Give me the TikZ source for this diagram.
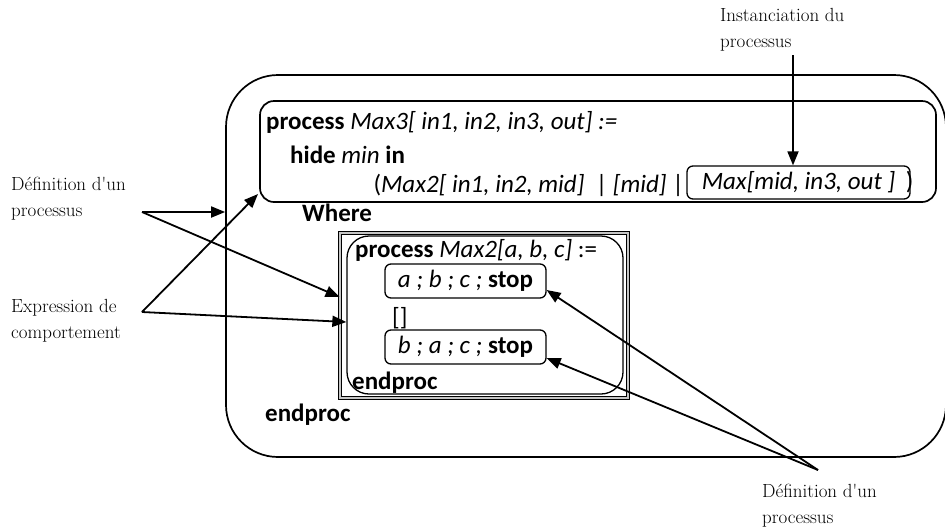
\documentclass[tikz,border=0pt]{standalone}
\usepackage{fontspec}
\newfontfamily\calfam{Carlito}
\usetikzlibrary{arrows.meta}
\newcommand\codefont{\calfam\fontsize{25}{30}\selectfont}
\newcommand\lblfont{\fontsize{19}{26}\selectfont}
\begin{document}
\begin{tikzpicture}[x=1pt,y=-1pt,
  txt/.style={inner sep=0pt,font=\codefont},
  lbl/.style={inner sep=0pt,font=\lblfont,align=left},
  shp/.style={draw,inner sep=0pt,line width=1.7pt},
  sbox/.style={draw,inner sep=0pt,line width=1.3pt,rounded corners=6pt,font=\codefont},
  arr/.style={line width=1.8pt,-{Triangle[length=14pt,width=11pt]}}]
\useasboundingbox (0,0) rectangle (945,531);
% shapes
\node[shp,rounded corners=52pt,minimum width=720pt,minimum height=382pt] (outer) at (586,266) {};
\node[shp,rounded corners=14pt,minimum width=676pt,minimum height=101pt] (m3) at (598,151.5) {};
\node[draw,inner sep=0pt,line width=0.9pt,double=gray!45,double distance=1.5pt,minimum width=288pt,minimum height=165pt] (sq) at (484,315.5) {};
\node[shp,line width=1.3pt,rounded corners=22pt,minimum width=276pt,minimum height=158pt] (inr) at (485,315) {};
% texts of Max3
\node[txt,anchor=west] (l1) at (266,122) {\textbf{process} \textit{Max3[ in1, in2, in3, out] :=}};
\node[txt,anchor=west] (l2) at (290,155) {\textbf{hide} \textit{min} \textbf{in}};
\node[txt,anchor=east] (l3) at (684,185) {(\textit{Max2[ in1, in2, mid]}\ \ | \textit{[mid]} |};
\node[sbox,minimum width=223pt,minimum height=33pt] (maxb) at (798.5,182.5) {\textit{Max[mid, in3, out ]}};
\node[txt,anchor=west] (rp) at ([xshift=-5pt]maxb.east) {)};
\node[txt,anchor=west] (where) at (302,213) {\textbf{Where}};
% texts of Max2
\node[txt,anchor=west] (p2) at (355,250) {\textbf{process} \textit{Max2[a, b, c]} :=};
\node[sbox,minimum width=161pt,minimum height=34pt] (b1) at (465.5,281) {\textit{a ; b ; c ;} \textbf{stop}};
\node[txt,anchor=west] (ch) at (392,318) {[]};
\node[sbox,minimum width=161pt,minimum height=34pt] (b2) at (465.5,347) {\textit{b ; a ; c ;} \textbf{stop}};
\node[txt,anchor=west] (ep2) at (352,383) {\textbf{endproc}};
\node[txt,anchor=west] (ep1) at (265,415) {\textbf{endproc}};
% labels
\node[lbl,anchor=north west] (inst) at (720,8) {Instanciation du\\processus};
\node[lbl,anchor=north west] (defl) at (11,177) {Définition d\textquotesingle un\\processus};
\node[lbl,anchor=north west] (expr) at (11,299) {Expression de\\comportement};
\node[lbl,anchor=north west] (defr) at (762,484) {Définition d\textquotesingle un\\processus};
% connector ends
\coordinate (instS) at (793,55);
\coordinate (defS) at (142,212);
\coordinate (exprS) at (142,312);
\coordinate (defrS) at (818,470);
\coordinate (m3corner) at (258,194);
% connectors
\draw[arr] (instS) -- (instS |- maxb.north);
\draw[arr] (defS) -- (outer.west |- defS);
\draw[arr] (defS) -- (sq.west |- {(0,297)});
\draw[arr] (exprS) -- (m3corner);
\draw[arr] (exprS) -- (inr.west |- {(0,322)});
\draw[arr] (defrS) -- (b1.east |- {(0,290)});
\draw[arr] (defrS) -- (b2.east |- {(0,358)});
\end{tikzpicture}
\end{document}
